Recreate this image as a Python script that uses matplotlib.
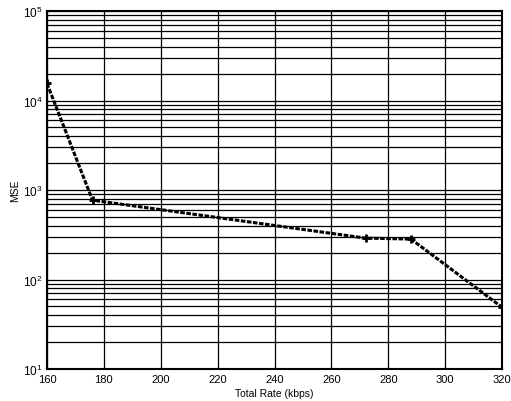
import matplotlib
matplotlib.use("Agg")
import matplotlib.pyplot as plt
from matplotlib.ticker import LogLocator, NullFormatter

plt.rcParams['font.family'] = ['Liberation Sans', 'DejaVu Sans']
plt.rcParams['mathtext.fontset'] = 'custom'
plt.rcParams['mathtext.rm'] = 'Liberation Sans'
plt.rcParams['mathtext.it'] = 'Liberation Sans:italic'
plt.rcParams['mathtext.bf'] = 'Liberation Sans:bold'

rate = [160, 176, 272, 288, 320]
mse = [15500, 770, 290, 283, 49]
xticks = [160, 180, 200, 220, 240, 260, 280, 300, 320]

fig = plt.figure(figsize=(5.11, 4.02), dpi=100)
ax = fig.add_axes([47/511, 32/402, 455/511, 358/402])
ax.set_yscale('log')
ax.set_xlim(160, 320)
ax.set_ylim(10, 1e5)
ax.set_xticks(xticks)
ax.set_xticklabels([str(v) for v in xticks], fontsize=8)
ax.yaxis.set_major_locator(LogLocator(base=10, numticks=10))
ax.yaxis.set_minor_locator(LogLocator(base=10, subs=range(2, 10), numticks=10))
ax.yaxis.set_minor_formatter(NullFormatter())
ax.tick_params(axis='y', labelsize=8.5)
ax.grid(True, which='major', color='black', linewidth=0.9)
ax.grid(True, which='minor', axis='y', color='black', linewidth=0.9)
ax.tick_params(which='both', direction='in', length=2)
for s in ax.spines.values():
    s.set_linewidth(1.5)

ax.plot(rate, mse, color='black', linestyle='--', linewidth=2.2, marker='+',
        markersize=6, markeredgewidth=2, dashes=(1.5, 0.5))

ax.set_xlabel('Total Rate (kbps)', fontsize=7.5, labelpad=3)
ax.set_ylabel('MSE', fontsize=7.5, labelpad=2)

fig.savefig('out.png', dpi=100)
